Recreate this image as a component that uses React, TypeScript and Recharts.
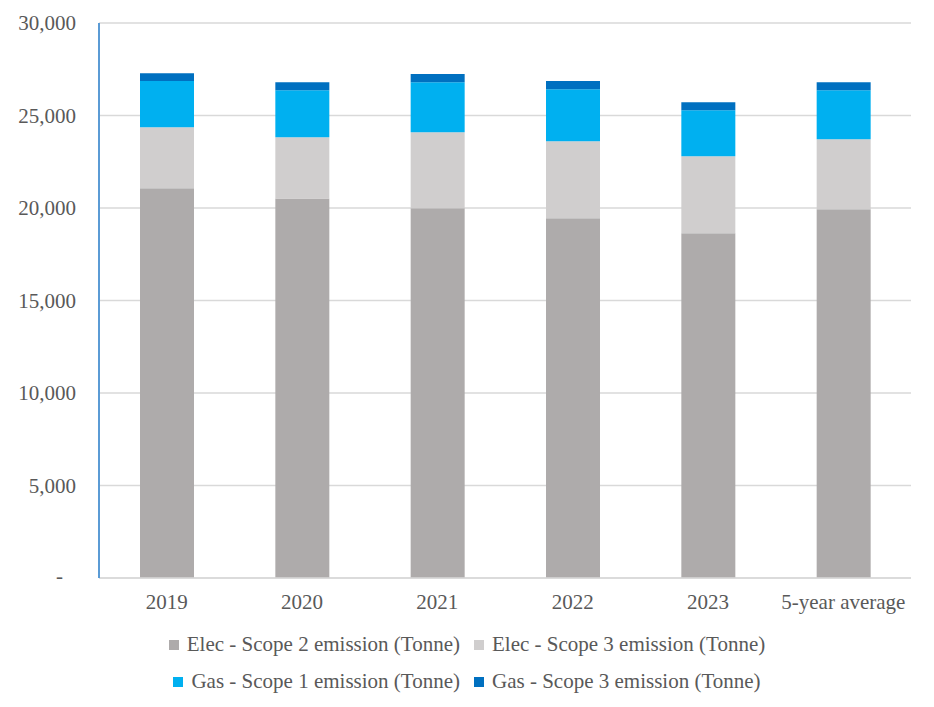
import { BarChart, Bar, XAxis, YAxis, CartesianGrid, Legend } from "recharts";

const categories = ["2019", "2020", "2021", "2022", "2023", "5-year average"];
const elecScope2 = [21070, 20520, 19980, 19440, 18630, 19930];
const elecScope3 = [3300, 3310, 4120, 4170, 4170, 3790];
const gasScope1 = [2490, 2540, 2700, 2810, 2490, 2650];
const gasScope3 = [430, 430, 440, 440, 430, 430];
const yTicks = [0, 5000, 10000, 15000, 20000, 25000, 30000];

const series = [
  { key: "e2", name: "Elec - Scope 2 emission (Tonne)", color: "#AEABAB" },
  { key: "e3", name: "Elec - Scope 3 emission (Tonne)", color: "#D0CECE" },
  { key: "g1", name: "Gas - Scope 1 emission (Tonne)", color: "#00B0F0" },
  { key: "g3", name: "Gas - Scope 3 emission (Tonne)", color: "#0070C0" },
];

const data = categories.map((label, i) => ({
  label,
  e2: elecScope2[i],
  e3: elecScope3[i],
  g1: gasScope1[i],
  g3: gasScope3[i],
}));

const FONT = "'Liberation Serif', 'Times New Roman', serif";
const TEXT = "#595959";

function YTick({ x, y, payload }: any) {
  const v = payload.value as number;
  if (v === 0) {
    return (
      <text x={x - 28} y={y} dy={5} textAnchor="end" fontSize={21} fill={TEXT} fontFamily={FONT}>
        -
      </text>
    );
  }
  return (
    <text x={x - 15} y={y} dy={7} textAnchor="end" fontSize={21} fill={TEXT} fontFamily={FONT}>
      {v.toLocaleString("en-US")}
    </text>
  );
}

function LegendRows() {
  const rows = [series.slice(0, 2), series.slice(2, 4)];
  return (
    <div style={{ fontFamily: FONT, fontSize: 21, color: TEXT }}>
      {rows.map((row, r) => (
        <div key={r} style={{ display: "flex", justifyContent: "center", gap: 14, height: 37, alignItems: "center" }}>
          {row.map((s) => (
            <span key={s.key} style={{ display: "flex", alignItems: "center" }}>
              <span style={{ width: 10, height: 10, background: s.color, display: "inline-block", marginRight: 8 }} />
              {s.name}
            </span>
          ))}
        </div>
      ))}
    </div>
  );
}

export default function App() {
  return (
    <div style={{ position: "absolute", left: 0, top: 0, background: "#fff" }}>
      <BarChart width={934} height={707} data={data} margin={{ top: 23, right: 23, left: 0, bottom: 0 }} barSize={54}>
        <CartesianGrid stroke="#D9D9D9" strokeWidth={1.5} vertical={false} />
        <XAxis
          dataKey="label"
          height={55}
          axisLine={{ stroke: "#D9D9D9", strokeWidth: 1.5 }}
          tickLine={false}
          tick={{ fontSize: 21, fill: TEXT, fontFamily: FONT, dy: 8 }}
        />
        <YAxis
          width={99}
          domain={[0, 30000]}
          ticks={yTicks}
          axisLine={{ stroke: "#5B9BD5", strokeWidth: 2 }}
          tickLine={false}
          tick={<YTick />}
        />
        <Legend verticalAlign="bottom" wrapperStyle={{ top: 626, left: 0, width: 934 }} content={<LegendRows />} />
        {series.map((s) => (
          <Bar key={s.key} dataKey={s.key} name={s.name} stackId="a" fill={s.color} isAnimationActive={false} />
        ))}
      </BarChart>
    </div>
  );
}
